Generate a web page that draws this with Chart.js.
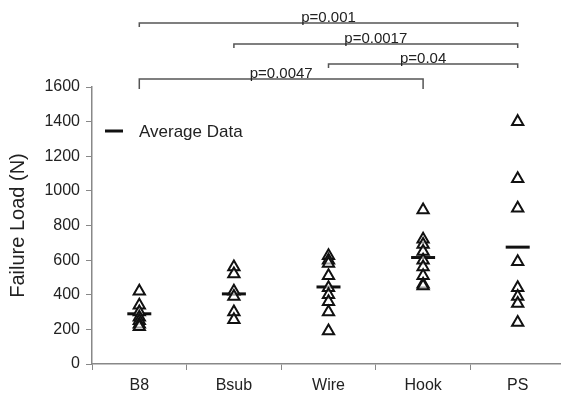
<!DOCTYPE html>
<html lang="en">
<head>
<meta charset="UTF-8">
<title>Failure Load</title>
<script src="https://cdn.jsdelivr.net/npm/chart.js"></script>
<style>
  html, body { margin: 0; padding: 0; background: #fff; overflow: hidden; }
  #wrap { width: 561px; height: 406px; overflow: hidden; }
</style>
</head>
<body>
<div id="wrap"><canvas id="loadChart" width="580" height="406"></canvas></div>
<script>
// values
const categories = ['B8', 'Bsub', 'Wire', 'Hook', 'PS'];
const b8Loads = [420, 340, 300, 270, 250, 230, 215];
const bsubLoads = [560, 520, 420, 390, 300, 255];
const wireLoads = [625, 600, 580, 510, 440, 400, 360, 300, 190];
const hookLoads = [890, 720, 690, 650, 600, 560, 510, 460, 450];
const psLoads = [1400, 1070, 900, 590, 440, 390, 350, 240];
const averageLoads = [290, 405, 445, 615, 675];
const yTicks = [0, 200, 400, 600, 800, 1000, 1200, 1400, 1600];

const pFrom = ['B8', 'Bsub', 'Wire', 'B8'];
const pTo = ['PS', 'PS', 'PS', 'Hook'];
const pLabels = ['p=0.001', 'p=0.0017', 'p=0.04', 'p=0.0047'];

const FONT = "'Liberation Sans', Arial, sans-serif";
const groups = [b8Loads, bsubLoads, wireLoads, hookLoads, psLoads];

const loadPoints = [];
groups.forEach((vals, i) => {
  vals.forEach(v => loadPoints.push({ x: categories[i], y: v }));
});
const avgPoints = averageLoads.map((v, i) => ({ x: categories[i], y: v }));

// bracket heights above the plot, in px
const bracketRise = [64, 43, 23, 8];
const bracketDrop = [4, 4, 4, 10];

const extras = {
  id: 'extras',
  afterDraw(chart) {
    const { ctx, chartArea, scales } = chart;
    const xs = scales.x;
    ctx.save();
    ctx.strokeStyle = '#555';
    ctx.lineWidth = 1.5;
    ctx.fillStyle = '#222';
    ctx.font = '15px ' + FONT;
    ctx.textAlign = 'center';
    ctx.textBaseline = 'bottom';
    pLabels.forEach((lab, i) => {
      const x1 = xs.getPixelForValue(categories.indexOf(pFrom[i]));
      const x2 = xs.getPixelForValue(categories.indexOf(pTo[i]));
      const y = chartArea.top - bracketRise[i];
      ctx.beginPath();
      ctx.moveTo(x1, y + bracketDrop[i]);
      ctx.lineTo(x1, y);
      ctx.lineTo(x2, y);
      ctx.lineTo(x2, y + bracketDrop[i]);
      ctx.stroke();
      ctx.fillText(lab, (x1 + x2) / 2, y + 2);
    });

    // legend inside plot
    const ly = chartArea.top + 44;
    ctx.strokeStyle = '#111';
    ctx.lineWidth = 3;
    ctx.beginPath();
    ctx.moveTo(chartArea.left + 13, ly);
    ctx.lineTo(chartArea.left + 31, ly);
    ctx.stroke();
    ctx.font = '17px ' + FONT;
    ctx.textAlign = 'left';
    ctx.textBaseline = 'middle';
    ctx.fillText('Average Data', chartArea.left + 47, ly + 1);
    ctx.restore();
  }
};

new Chart(document.getElementById('loadChart'), {
  type: 'line',
  data: {
    labels: categories,
    datasets: [
      {
        label: 'Failure Load',
        data: loadPoints,
        showLine: false,
        pointStyle: 'triangle',
        pointRadius: 6.5,
        pointBorderWidth: 2,
        pointBorderColor: '#111',
        pointBackgroundColor: 'rgba(255,255,255,0.6)'
      },
      {
        label: 'Average Data',
        data: avgPoints,
        showLine: false,
        pointStyle: 'line',
        pointRadius: 12,
        pointBorderWidth: 3,
        pointBorderColor: '#111'
      }
    ]
  },
  options: {
    responsive: false,
    animation: false,
    layout: { padding: { top: 87, left: 0, right: 1, bottom: 0 } },
    plugins: { legend: { display: false }, tooltip: { enabled: false } },
    scales: {
      x: {
        type: 'category',
        offset: true,
        afterFit(s) { s.height = 42; },
        grid: { drawOnChartArea: false, offset: true, tickLength: 6, color: '#888' },
        border: { color: '#888', width: 1.5 },
        ticks: { color: '#222', font: { family: FONT, size: 16 }, padding: 6 }
      },
      y: {
        min: 0,
        max: 1600,
        afterFit(s) { s.width = 92; },
        afterBuildTicks(s) { s.ticks = yTicks.map(v => ({ value: v })); },
        grid: { drawOnChartArea: false, tickLength: 6, color: '#888' },
        border: { color: '#888', width: 1.5 },
        ticks: {
          color: '#222',
          font: { family: FONT, size: 16 },
          padding: 6,
          callback: v => String(v)
        },
        title: {
          display: true,
          text: 'Failure Load (N)',
          color: '#222',
          font: { family: FONT, size: 20 },
          padding: { top: 6, bottom: 2 }
        }
      }
    }
  },
  plugins: [extras]
});
</script>
</body>
</html>
